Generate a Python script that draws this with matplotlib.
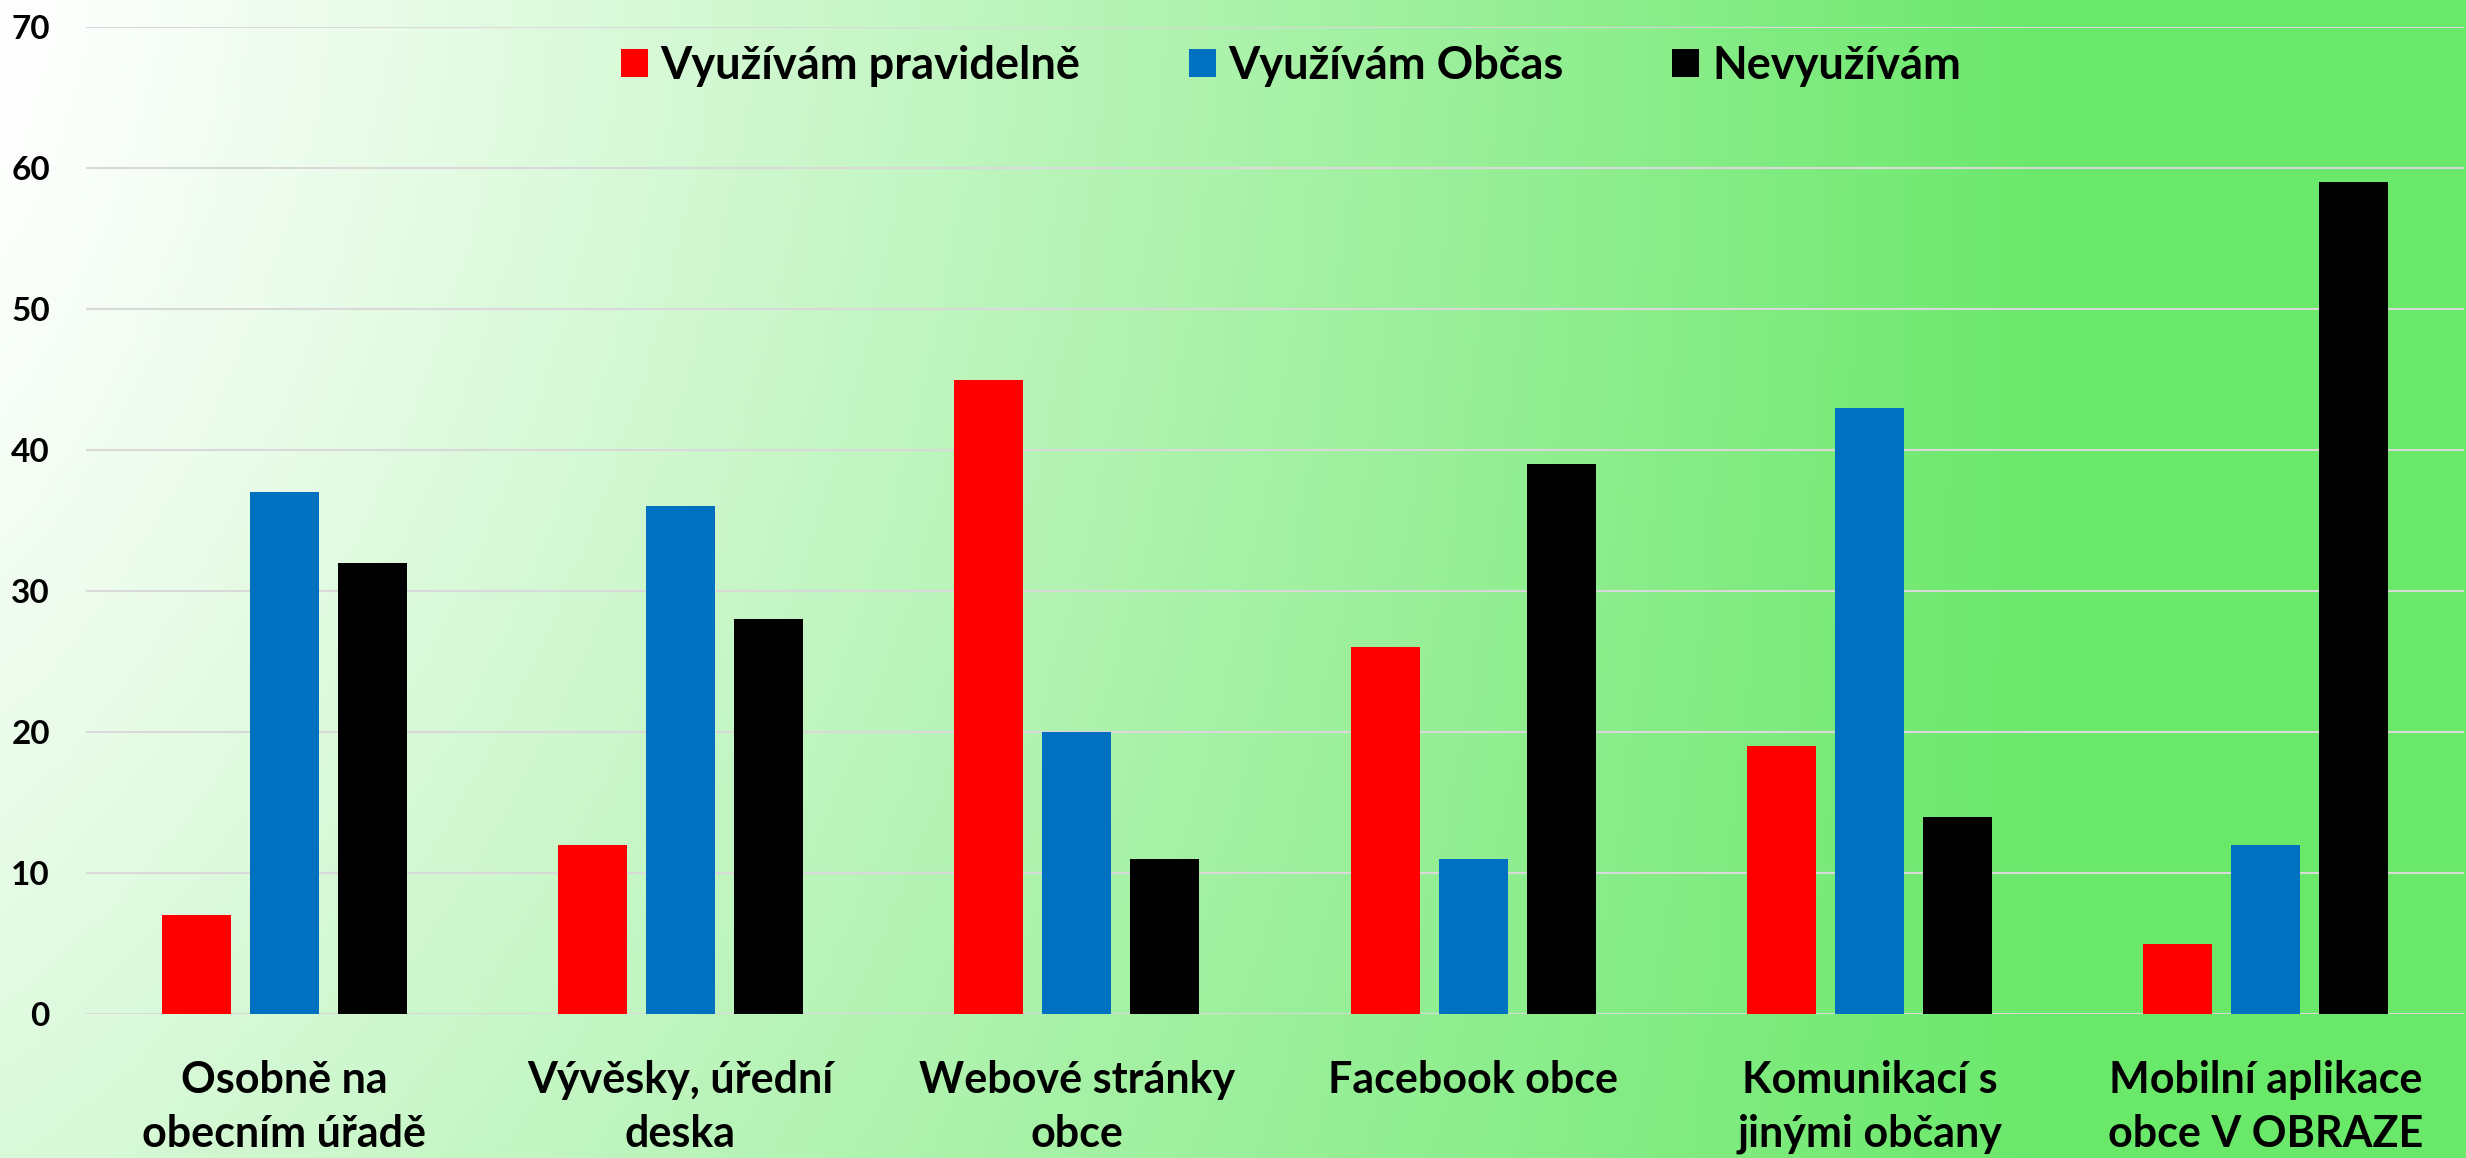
import numpy as np
import matplotlib
matplotlib.use("Agg")
import matplotlib.pyplot as plt
from matplotlib.patches import Patch

plt.rcParams["font.family"] = ["Lato", "DejaVu Sans"]
plt.rcParams["font.weight"] = "bold"

categories = [
    "Osobně na\nobecním úřadě",
    "Vývěsky, úřední\ndeska",
    "Webové stránky\nobce",
    "Facebook obce",
    "Komunikací s\njinými občany",
    "Mobilní aplikace\nobce V OBRAZE",
]
series_names = ["Využívám pravidelně", "Využívám Občas", "Nevyužívám"]
pravidelne = [7, 12, 45, 26, 19, 5]
obcas = [37, 36, 20, 11, 43, 12]
nevyuzivam = [32, 28, 11, 39, 14, 59]
yticks = [0, 10, 20, 30, 40, 50, 60, 70]

colors = ["#FF0000", "#0070C0", "#000000"]

W, H = 2466, 1158
fig = plt.figure(figsize=(W / 100, H / 100), dpi=100)

# background gradient: white at top-left, green towards the right
bg = fig.add_axes([0, 0, 1, 1], zorder=0)
xx, yy = np.meshgrid(np.linspace(0, W, 400), np.linspace(0, H, 200))
t = 1 - (1 - np.clip(xx / 2050, 0, 1) ** 1.15) * (1 - 0.25 * (yy / H) ** 1.5)
t = np.clip(t, 0, 1)
white = np.array([1.0, 1.0, 1.0])
green = np.array([106, 232, 106]) / 255
img = white[None, None, :] * (1 - t[..., None]) + green[None, None, :] * t[..., None]
bg.imshow(img, extent=[0, W, H, 0], aspect="auto")
bg.axis("off")

ax = fig.add_axes([86 / W, 1 - 1014 / H, (2464 - 86) / W, (1014 - 27) / H], zorder=1)
ax.patch.set_alpha(0)

x = np.arange(len(categories))
width = 0.174
step = 0.222
for i, (vals, c, name) in enumerate(zip([pravidelne, obcas, nevyuzivam], colors, series_names)):
    ax.bar(x + (i - 1) * step, vals, width, color=c, label=name, zorder=3)

ax.set_xlim(-0.5, len(categories) - 0.5)
ax.set_ylim(0, 70)
ax.set_yticks(yticks)
ax.set_yticklabels([str(v) for v in yticks], fontsize=24, fontweight="bold")
ax.set_xticks(x)
ax.set_xticklabels(categories, fontsize=31, fontweight="bold", linespacing=1.42)
ax.tick_params(axis="both", length=0)
ax.tick_params(axis="y", pad=26)
ax.tick_params(axis="x", pad=33)
ax.yaxis.grid(True, color="#D9D9D9", linewidth=1.5, zorder=0)
for s in ax.spines.values():
    s.set_visible(False)

handles = [Patch(facecolor=c, edgecolor="none") for c in colors]
fig.legend(
    handles, series_names,
    loc="center", bbox_to_anchor=(1291 / W, 1 - 66 / H),
    ncol=3, frameon=False, prop={"size": 32.5, "weight": "bold"},
    handlelength=0.6, handleheight=0.6, handletextpad=0.28, columnspacing=2.4,
)

fig.savefig("out.png", dpi=100)
